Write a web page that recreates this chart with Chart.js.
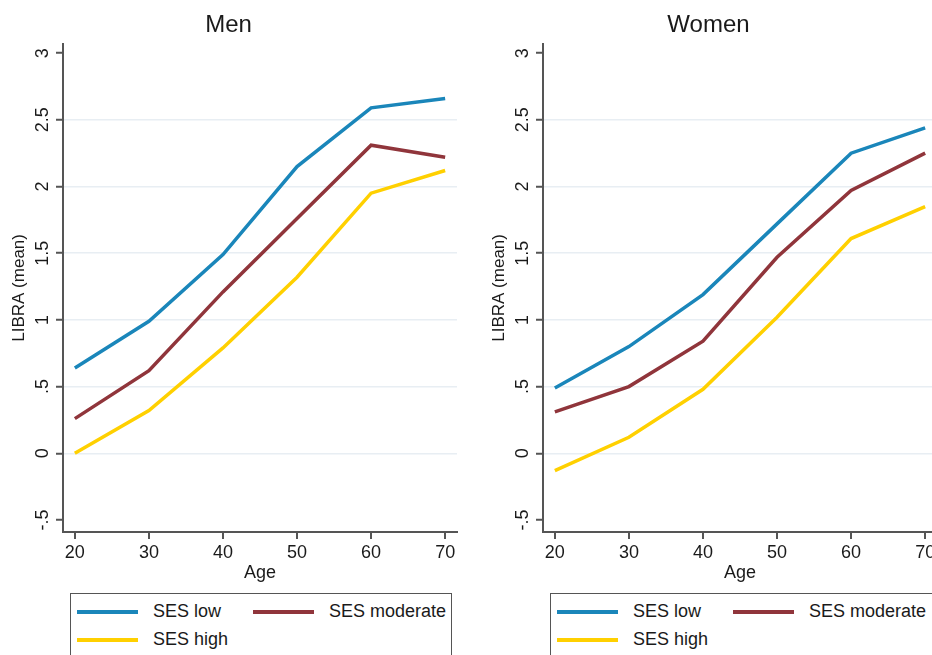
<!DOCTYPE html>
<html>
<head>
<meta charset="utf-8">
<script src="https://cdn.jsdelivr.net/npm/chart.js@4.4.0/dist/chart.umd.min.js"></script>
<style>
    html, body { margin: 0; padding: 0; background: #fff; overflow: hidden; width: 932px; height: 655px; }
    .panel { position: absolute; top: 0; height: 590px; }
    .legend {
        position: absolute; top: 593px; height: 80px; border: 1.5px solid #555;
        font-family: "Liberation Sans", Arial, sans-serif; font-size: 18px; color: #1a1a1a;
    }
    .item { position: absolute; display: flex; align-items: center; white-space: nowrap; }
    .swatch { width: 61px; height: 4px; margin-right: 15px; }
</style>
</head>
<body>
<div class="panel" id="menBox" style="left:0; width:466px;"><canvas id="menChart"></canvas></div>
<div class="panel" id="womenBox" style="left:480px; width:466px;"><canvas id="womenChart"></canvas></div>
<div class="legend" id="menLegend" style="left:70px; width:380px;"></div>
<div class="legend" id="womenLegend" style="left:550px; width:400px;"></div>
<script>
const ages = [20, 30, 40, 50, 60, 70];
const yTicks = [-0.5, 0, 0.5, 1, 1.5, 2, 2.5, 3];
const yTickLabels = ['-.5', '0', '.5', '1', '1.5', '2', '2.5', '3'];

const seriesNames = ['SES low', 'SES moderate', 'SES high'];
const seriesColors = ['#1a86ba', '#90353b', '#ffd000'];

const menLow = [0.64, 0.99, 1.49, 2.15, 2.59, 2.66];
const menModerate = [0.26, 0.62, 1.21, 1.76, 2.31, 2.22];
const menHigh = [0.0, 0.32, 0.79, 1.32, 1.95, 2.12];

const womenLow = [0.49, 0.80, 1.19, 1.72, 2.25, 2.44];
const womenModerate = [0.31, 0.50, 0.84, 1.47, 1.97, 2.25];
const womenHigh = [-0.13, 0.12, 0.48, 1.02, 1.61, 1.85];

const font = "'Liberation Sans', Arial, sans-serif";
const textColor = '#1a1a1a';

function makeChart(id, title, series, rightPad) {
    const datasets = series.map((vals, i) => ({
        label: seriesNames[i],
        data: ages.map((a, j) => ({ x: a, y: vals[j] })),
        borderColor: seriesColors[i],
        backgroundColor: seriesColors[i],
        borderWidth: 3.5,
        pointRadius: 0,
        tension: 0
    }));
    // draw low on top like the original
    datasets.reverse();

    return new Chart(document.getElementById(id), {
        type: 'line',
        data: { datasets },
        options: {
            responsive: true,
            maintainAspectRatio: false,
            animation: false,
            layout: { padding: { left: 0, right: rightPad, top: 0, bottom: 0 } },
            plugins: {
                legend: { display: false },
                tooltip: { enabled: false },
                title: {
                    display: true, text: title, color: textColor,
                    font: { family: font, size: 24, weight: 'normal' },
                    padding: { top: 11, bottom: 4 }
                }
            },
            scales: {
                x: {
                    type: 'linear', min: 18.4, max: 71.6,
                    afterBuildTicks: s => { s.ticks = ages.map(v => ({ value: v })); },
                    afterFit: s => { s.height = 58; s.paddingLeft = 0; s.paddingRight = 0; },
                    border: { color: '#555', width: 2 },
                    grid: { drawOnChartArea: false, color: '#555', tickLength: 7, lineWidth: 2 },
                    ticks: { color: textColor, font: { family: font, size: 18 }, padding: 3, maxRotation: 0 },
                    title: { display: true, text: 'Age', color: textColor, font: { family: font, size: 18 }, padding: { top: 0, bottom: 6 } }
                },
                y: {
                    min: -0.59, max: 3.07,
                    afterBuildTicks: s => { s.ticks = yTicks.map(v => ({ value: v })); },
                    afterFit: s => { s.width = 63; s.paddingTop = 0; s.paddingBottom = 0; },
                    border: { color: '#555', width: 2 },
                    grid: {
                        color: ctx => (ctx.tick && (ctx.tick.value === 3 || ctx.tick.value === -0.5)) ? 'rgba(0,0,0,0)' : '#e8eef3',
                        lineWidth: 1.5, tickLength: 7, tickColor: '#555', tickWidth: 2
                    },
                    ticks: {
                        color: textColor, font: { family: font, size: 18 },
                        minRotation: 90, maxRotation: 90, crossAlign: 'center', padding: 0,
                        callback: v => yTickLabels[yTicks.indexOf(v)]
                    },
                    title: { display: true, text: 'LIBRA (mean)', color: textColor, font: { family: font, size: 17 }, padding: { top: 9, bottom: 0 } }
                }
            }
        }
    });
}

function makeLegend(id) {
    const box = document.getElementById(id);
    const spots = [[6, 7], [182, 7], [6, 35]];
    seriesNames.forEach((name, i) => {
        const item = document.createElement('div');
        item.className = 'item';
        item.style.left = spots[i][0] + 'px';
        item.style.top = spots[i][1] + 'px';
        item.innerHTML = '<span class="swatch" style="background:' + seriesColors[i] + '"></span><span>' + name + '</span>';
        box.appendChild(item);
    });
}

makeChart('menChart', 'Men', [menLow, menModerate, menHigh], 9);
makeChart('womenChart', 'Women', [womenLow, womenModerate, womenHigh], 9);
makeLegend('menLegend');
makeLegend('womenLegend');
</script>
</body>
</html>
